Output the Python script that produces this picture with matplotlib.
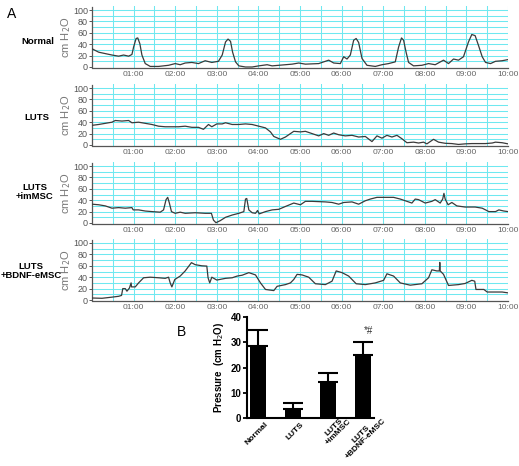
import numpy as np
import matplotlib
matplotlib.use("Agg")
import matplotlib.pyplot as plt
import matplotlib.transforms as mtransforms

# ---------------- data ----------------
group_names = ["Normal", "LUTS", "LUTS\n+imMSC", "LUTS\n+BDNF-eMSC"]

t_normal = [0, .16, .48, .64, .76, .88, .96, 1.00, 1.06, 1.10, 1.15, 1.20, 1.28, 1.40, 1.60, 1.84,
            2.00, 2.12, 2.24, 2.40, 2.56, 2.72, 2.88, 3.04, 3.13, 3.21, 3.27, 3.33, 3.38, 3.45, 3.53,
            3.69, 3.85, 4.01, 4.21, 4.33, 4.49, 4.65, 4.81, 4.97, 5.13, 5.45, 5.69, 5.81, 5.97, 6.05,
            6.13, 6.21, 6.29, 6.35, 6.41, 6.49, 6.61, 6.81, 6.97, 7.13, 7.29, 7.37, 7.44, 7.49, 7.55,
            7.61, 7.73, 7.93, 8.09, 8.25, 8.45, 8.57, 8.69, 8.81, 8.93, 9.05, 9.13, 9.21, 9.29, 9.38,
            9.46, 9.58, 9.70, 9.86, 10.0]
p_normal = [32, 26, 21, 19, 21, 19, 22, 35, 50, 51, 41, 21, 6, 1, 1, 3, 6, 4, 7, 8, 6, 11, 8, 10, 21,
            44, 49, 45, 26, 9, 2, 0, 0, 2, 4, 2, 3, 4, 5, 7, 5, 6, 12, 7, 6, 18, 14, 21, 47, 50, 43,
            15, 3, 1, 4, 6, 9, 35, 51, 47, 26, 8, 2, 3, 6, 4, 12, 6, 14, 12, 18, 44, 57, 55, 38, 18,
            8, 6, 10, 11, 13]

t_luts = [0, .16, .32, .48, .56, .72, .88, .96, 1.12, 1.28, 1.44, 1.60, 1.76, 2.08, 2.24, 2.40, 2.56,
          2.68, 2.80, 2.88, 3.00, 3.13, 3.21, 3.37, 3.53, 3.69, 3.85, 4.01, 4.17, 4.29, 4.37, 4.53,
          4.65, 4.77, 4.85, 5.01, 5.13, 5.29, 5.45, 5.57, 5.69, 5.81, 5.93, 6.09, 6.25, 6.41, 6.57,
          6.73, 6.85, 6.97, 7.09, 7.21, 7.33, 7.45, 7.57, 7.73, 7.85, 7.97, 8.05, 8.21, 8.33, 8.49,
          8.65, 8.81, 8.97, 9.13, 9.46, 9.62, 9.70, 9.86, 10.0]
p_luts = [34.5, 36, 38, 40, 43, 42, 43, 39, 40, 38, 36, 33, 32, 32, 33, 31, 31, 27.5, 36, 32, 37, 37,
          39, 36, 36, 37, 36, 33, 30, 23, 15, 10, 14, 20, 24, 23, 24, 20, 16, 20, 17, 21, 18, 16, 17,
          14, 15, 6, 16, 12, 17, 14, 17, 11, 4, 5, 3.5, 5, 2, 10, 5, 3, 2.5, 1, 2, 2.5, 2.5, 3.5, 5,
          4, 2]

t_immsc = [0, .16, .32, .48, .64, .80, .96, .99, 1.12, 1.28, 1.44, 1.64, 1.72, 1.78, 1.82, 1.86, 1.91,
           2.00, 2.12, 2.24, 2.48, 2.72, 2.87, 2.92, 2.98, 3.08, 3.21, 3.37, 3.53, 3.65, 3.69, 3.72,
           3.77, 3.85, 3.93, 3.98, 4.02, 4.17, 4.33, 4.49, 4.65, 4.85, 5.01, 5.13, 5.29, 5.45, 5.61,
           5.77, 5.93, 6.05, 6.25, 6.41, 6.57, 6.69, 6.85, 7.05, 7.25, 7.41, 7.57, 7.69, 7.77, 7.85,
           8.01, 8.17, 8.25, 8.37, 8.43, 8.46, 8.49, 8.56, 8.65, 8.77, 8.97, 9.21, 9.38, 9.54, 9.70,
           9.78, 9.90, 10.0]
p_immsc = [33, 32, 30, 26, 27, 26, 27, 23, 23, 21, 20, 19, 23, 41, 45, 35, 20, 17, 19, 17, 18, 17, 17,
           5, 0.5, 4, 10, 14, 17, 20, 42, 43, 23, 18, 17, 22, 16, 20, 23, 24, 29, 35, 32, 38, 38,
           37.5, 37, 36, 33, 36, 37, 33, 39, 42, 45, 45, 45, 42, 38, 35, 42, 41, 35, 38, 41, 35, 42,
           52, 42, 32, 36, 30, 28, 28, 26, 20, 20, 23, 21, 20]

t_bdnf = [0, .24, .48, .64, .71, .74, .80, .84, .90, .94, .95, 1.04, 1.12, 1.24, 1.40, 1.60, 1.76,
          1.84, 1.88, 1.92, 1.99, 2.12, 2.24, 2.39, 2.48, 2.64, 2.76, 2.79, 2.83, 2.88, 3.00, 3.21,
          3.37, 3.49, 3.61, 3.77, 3.93, 4.05, 4.17, 4.37, 4.45, 4.65, 4.77, 4.85, 4.93, 5.05, 5.21,
          5.37, 5.61, 5.77, 5.87, 6.01, 6.17, 6.35, 6.57, 6.81, 7.01, 7.09, 7.25, 7.41, 7.65, 7.93,
          8.09, 8.17, 8.29, 8.35, 8.36, 8.37, 8.45, 8.57, 8.81, 8.97, 9.13, 9.20, 9.23, 9.42, 9.50,
          9.70, 9.86, 10.0]
p_bdnf = [3.5, 3, 5, 6.5, 8, 20, 20, 15.5, 21, 30, 23, 23, 30, 39, 40, 39, 38, 40, 30, 23, 36, 42, 51,
          65.5, 62, 60, 59.5, 39, 30, 40, 35, 38, 39, 42, 43.5, 48, 44, 30, 18.5, 16.5, 24, 27, 30,
          36, 45, 44, 40, 28.5, 27, 33, 51, 48, 42, 28.5, 27, 30, 34.5, 46, 42, 30, 26, 28.5, 39, 53,
          51, 51, 66, 51, 45, 25.5, 27, 29, 34.5, 33, 18.5, 18.5, 14, 14, 14, 12.5]

time_ticks = [1, 2, 3, 4, 5, 6, 7, 8, 9, 10]
time_labels = ["01:00", "02:00", "03:00", "04:00", "05:00", "06:00", "07:00", "08:00", "09:00", "10:00"]

bar_labels = ["Normal", "LUTS", "LUTS\n+imMSC", "LUTS\n+BDNF-eMSC"]
bar_means = [28.7, 3.6, 14.3, 24.8]
bar_err = [6.3, 2.5, 3.7, 5.3]

traces = [(t_normal, p_normal), (t_luts, p_luts), (t_immsc, p_immsc), (t_bdnf, p_bdnf)]

# ---------------- figure ----------------
W, H = 519, 466
fig = plt.figure(figsize=(W / 100, H / 100), dpi=100)
fig.patch.set_facecolor("white")

grid_c = "#6fe8f0"
line_c = "#3a3a3a"
narrow = ["Liberation Sans Narrow", "Liberation Sans", "DejaVu Sans"]
arial = ["Liberation Sans", "DejaVu Sans"]

zero_px = [67, 145, 223, 300]
label_y = [41, 118, 192, 271]
label_x = [38, 37, 35, 31]
ymin, ymax = -2, 107
ppu = 0.57
for i, (tt, pp) in enumerate(traces):
    bottom_px = zero_px[i] + (0 - ymin) * ppu
    h_px = (ymax - ymin) * ppu
    ax = fig.add_axes([92 / W, 1 - bottom_px / H, 416 / W, h_px / H])
    ax.set_xlim(0, 10)
    ax.set_ylim(ymin, ymax)
    for gx in np.arange(0.5, 10.01, 0.5):
        ax.axvline(gx, color=grid_c, lw=0.75, zorder=1)
    for gy in range(10, 101, 10):
        ax.axhline(gy, color=grid_c, lw=0.75, zorder=1)
    ax.plot(tt, pp, color=line_c, lw=0.9, zorder=3)
    for s in ["top", "right"]:
        ax.spines[s].set_visible(False)
    for s in ["left", "bottom"]:
        ax.spines[s].set_color("#555555")
        ax.spines[s].set_linewidth(0.9)
    ax.spines["bottom"].set_bounds(0, 10)
    ax.spines["left"].set_bounds(0, 105)
    ax.set_yticks([0, 20, 40, 60, 80, 100])
    ax.set_yticklabels(["0", "20", "40", "60", "80", "100"], family=arial, fontsize=6.5, color="#555555")
    ax.set_xticks(time_ticks)
    ax.set_xticklabels(time_labels, family=narrow, fontsize=6, color="#666666")
    ax.tick_params(axis="x", length=0, pad=2)
    ax.tick_params(axis="y", length=2, width=0.7, pad=1, color="#555555")
    ax.set_ylabel("cm H$_2$O", fontsize=8, color="#777777", labelpad=0, family=arial)
    fig.text(label_x[i] / W, 1 - label_y[i] / H, group_names[i], ha="center", va="center",
             fontsize=6.8, fontweight="bold", family=arial, linespacing=1.1)

fig.text(12 / W, 1 - 14 / H, "A", fontsize=10, ha="center", va="center", family=arial)
fig.text(182 / W, 1 - 332 / H, "B", fontsize=10, ha="center", va="center", family=arial)

# ---------------- bar chart ----------------
bx = fig.add_axes([247 / W, 1 - 418 / H, 127 / W, 101 / H])
xpos = np.arange(len(bar_means))
bx.bar(xpos, bar_means, width=0.46, color="black", zorder=2)
bx.errorbar(xpos, bar_means, yerr=[np.zeros(len(bar_err)), bar_err], fmt="none",
            ecolor="black", elinewidth=1.5, capsize=7, capthick=1.5, zorder=1)
bx.set_xlim(-0.31, 3.31)
bx.set_ylim(0, 40)
bx.set_yticks([0, 10, 20, 30, 40])
bx.set_yticklabels(["0", "10", "20", "30", "40"], fontsize=7, fontweight="bold", family=arial)
bx.set_xticks(xpos)
bx.set_xticklabels([])
for xi, lab in zip(xpos, bar_labels):
    extra = lab.count("\n")
    dx_px = 7 + 8 * extra
    dy_px = -3 + 8 * extra
    tr = bx.get_xaxis_transform() + mtransforms.ScaledTranslation(dx_px / 100, dy_px / 100,
                                                                   fig.dpi_scale_trans)
    bx.text(xi, 0, lab, transform=tr, rotation=45, ha="right", va="top",
            rotation_mode="anchor", multialignment="center", fontsize=6.0,
            fontweight="bold", family=arial, linespacing=0.9)
bx.tick_params(axis="y", length=3, width=1.3, pad=1)
bx.tick_params(axis="x", length=0, pad=2)
for s in ["top", "right"]:
    bx.spines[s].set_visible(False)
bx.spines["left"].set_linewidth(1.5)
bx.spines["bottom"].set_linewidth(1.5)
bx.set_ylabel("Pressure  (cm H$_2$O)", fontsize=7, fontweight="bold", family=arial, labelpad=3)
bx.text(xpos[3] + 0.14, bar_means[3] + bar_err[3] + 4.5, "*#", ha="center", va="center",
        fontsize=7, family=arial, color="#333333")

fig.savefig("out.png", dpi=100, facecolor="white")
